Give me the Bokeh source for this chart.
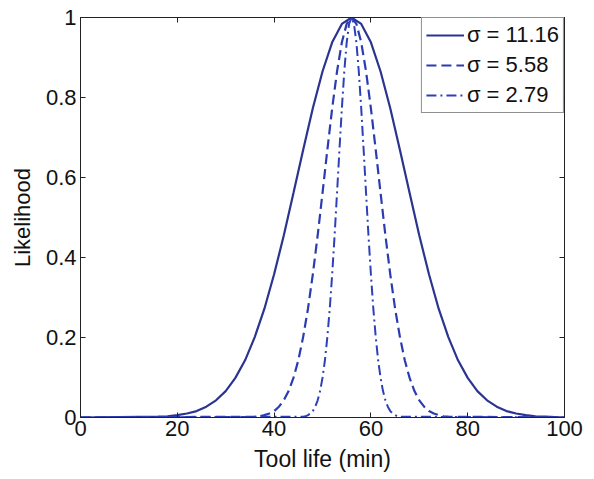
from bokeh.plotting import figure
from bokeh.models import Range1d, FixedTicker, LinearAxis, Legend, LegendItem
from bokeh.embed import file_html
from bokeh.resources import INLINE

# Values
x_wide = [0, 16, 18, 20, 22, 24, 26, 28, 30, 32, 34, 36, 38, 40, 42, 44, 46, 48, 50, 52, 54, 56,
          58, 60, 62, 64, 66, 68, 70, 72, 74, 76, 78, 80, 82, 84, 86, 88, 90, 92, 94, 96, 100]
y_wide = [0, 0.002, 0.003, 0.006, 0.010, 0.016, 0.027, 0.043, 0.066, 0.099, 0.143, 0.201, 0.272,
          0.358, 0.455, 0.561, 0.669, 0.773, 0.865, 0.938, 0.984, 1.0,
          0.984, 0.938, 0.865, 0.773, 0.669, 0.561, 0.455, 0.358, 0.272, 0.201, 0.143, 0.099,
          0.066, 0.043, 0.027, 0.016, 0.010, 0.006, 0.003, 0.002, 0]

x_mid = [0, 36, 37, 38, 39, 40, 41, 42, 43, 44, 45, 46, 47, 48, 49, 50, 51, 52, 53, 54, 55, 56,
         57, 58, 59, 60, 61, 62, 63, 64, 65, 66, 67, 68, 69, 70, 71, 72, 73, 74, 75, 76, 100]
y_mid = [0, 0.002, 0.003, 0.006, 0.010, 0.016, 0.027, 0.043, 0.066, 0.099, 0.143, 0.201, 0.272,
         0.358, 0.455, 0.561, 0.669, 0.773, 0.865, 0.938, 0.984, 1.0,
         0.984, 0.938, 0.865, 0.773, 0.669, 0.561, 0.455, 0.358, 0.272, 0.201, 0.143, 0.099,
         0.066, 0.043, 0.027, 0.016, 0.010, 0.006, 0.003, 0.002, 0]

x_narrow = [0, 46, 46.5, 47, 47.5, 48, 48.5, 49, 49.5, 50, 50.5, 51, 51.5, 52, 52.5, 53, 53.5, 54,
            54.5, 55, 55.5, 56, 56.5, 57, 57.5, 58, 58.5, 59, 59.5, 60, 60.5, 61, 61.5, 62, 62.5,
            63, 63.5, 64, 64.5, 65, 65.5, 66, 100]
y_narrow = [0, 0.002, 0.003, 0.006, 0.010, 0.016, 0.027, 0.043, 0.066, 0.099, 0.143, 0.201, 0.272,
            0.358, 0.455, 0.561, 0.669, 0.773, 0.865, 0.938, 0.984, 1.0,
            0.984, 0.938, 0.865, 0.773, 0.669, 0.561, 0.455, 0.358, 0.272, 0.201, 0.143, 0.099,
            0.066, 0.043, 0.027, 0.016, 0.010, 0.006, 0.003, 0.002, 0]

labels = ["\u03c3 = 11.16", "\u03c3 = 5.58", "\u03c3 = 2.79"]
x_ticks = [0, 20, 40, 60, 80, 100]
x_tick_labels = ["0", "20", "40", "60", "80", "100"]
y_ticks = [0, 0.2, 0.4, 0.6, 0.8, 1]
y_tick_labels = ["0", "0.2", "0.4", "0.6", "0.8", "1"]

FONT = "Liberation Sans"
INK = "#111111"
AX = "#222222"

p = figure(width=594, height=479, output_backend="svg", toolbar_location=None,
           x_range=Range1d(0, 100), y_range=Range1d(0, 1),
           min_border_left=80, min_border_right=30, min_border_top=17, min_border_bottom=62)
p.grid.visible = False
p.outline_line_color = AX
p.outline_line_width = 1

c_solid = "#2b3590"
c_dash = "#2a3cb2"
c_dd = "#2e40b8"

r1 = p.line(x_wide, y_wide, line_color=c_solid, line_width=2.2)
r2 = p.line(x_mid, y_mid, line_color=c_dash, line_width=2.2, line_dash="10 5")
r3 = p.line(x_narrow, y_narrow, line_color=c_dd, line_width=2, line_dash="10 4 2 4")

for ax in [p.xaxis[0], p.yaxis[0]]:
    ax.major_tick_in = 5
    ax.major_tick_out = 0
    ax.minor_tick_line_color = None
    ax.axis_line_color = AX
    ax.major_tick_line_color = AX
    ax.major_label_text_font = FONT
    ax.major_label_text_font_size = "22px"
    ax.major_label_text_color = INK
    ax.axis_label_text_font = FONT
    ax.axis_label_text_font_size = "22px"
    ax.axis_label_text_font_style = "normal"
    ax.axis_label_text_color = INK

p.xaxis[0].axis_label_text_font_size = "23px"
p.xaxis[0].ticker = FixedTicker(ticks=x_ticks)
p.yaxis[0].ticker = FixedTicker(ticks=y_ticks)
p.xaxis[0].major_label_overrides = {t: s for t, s in zip(x_ticks, x_tick_labels)}
p.yaxis[0].major_label_overrides = {t: s for t, s in zip(y_ticks, y_tick_labels)}
p.xaxis[0].axis_label = "Tool life (min)"
p.yaxis[0].axis_label = "Likelihood"
p.xaxis[0].major_label_standoff = 3
p.yaxis[0].major_label_standoff = 4
p.xaxis[0].axis_label_standoff = 7
p.yaxis[0].axis_label_standoff = 8

top = LinearAxis(ticker=FixedTicker(ticks=x_ticks), major_tick_in=5, major_tick_out=0,
                 minor_tick_line_color=None, major_label_text_font_size="1px",
                 major_label_text_alpha=0, major_label_standoff=0,
                 axis_line_color=AX, major_tick_line_color=AX)
right = LinearAxis(ticker=FixedTicker(ticks=y_ticks), major_tick_in=5, major_tick_out=0,
                   minor_tick_line_color=None, major_label_text_font_size="1px",
                   major_label_text_alpha=0, major_label_standoff=0,
                   axis_line_color=AX, major_tick_line_color=AX)
p.add_layout(top, "above")
p.add_layout(right, "right")

legend = Legend(items=[LegendItem(label=labels[0], renderers=[r1]),
                       LegendItem(label=labels[1], renderers=[r2]),
                       LegendItem(label=labels[2], renderers=[r3])],
                location="top_right", orientation="vertical",
                label_text_font=FONT, label_text_font_size="22px", label_text_color=INK,
                glyph_width=38, glyph_height=26, label_height=26, label_standoff=3,
                spacing=4, padding=4, margin=0,
                border_line_color=AX, border_line_width=1,
                background_fill_color="white", background_fill_alpha=1)
p.add_layout(legend, "center")

open("out.html", "w").write(file_html(p, INLINE))
